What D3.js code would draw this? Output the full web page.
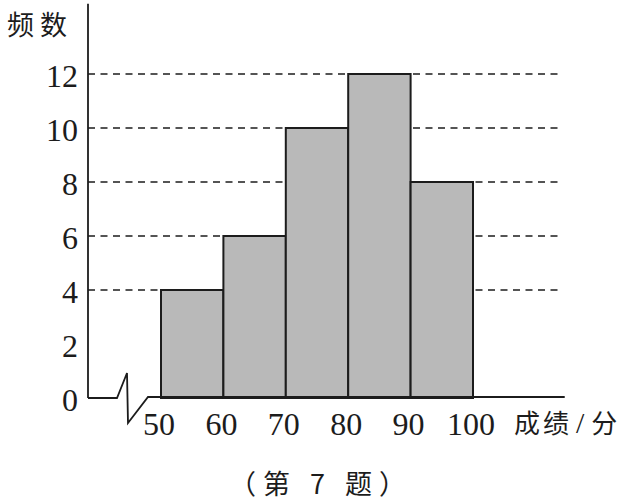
<!DOCTYPE html>
<html>
<head>
	<meta charset="utf-8">
	<title>频数分布直方图</title>
	<script src="https://d3js.org/d3.v7.min.js"></script>
	<style>
		body { margin: 0; background: #fff; }
		.num { font-family: 'Liberation Serif', 'Times New Roman', serif; }
		.cjk { font-family: 'Noto Sans CJK SC', sans-serif; }
	</style>
</head>
<body>
	<div class="chart"></div>

	<script type="text/javascript">
		// 分组边界与频数
		const binEdges = [50, 60, 70, 80, 90, 100]
		const counts = [4, 6, 10, 12, 8]
		const yTicks = [0, 2, 4, 6, 8, 10, 12]
		const gridValues = [4, 6, 8, 10, 12]
		const yTitle = '频数'
		const xTitle = ['成绩', '/', '分']
		const caption = '（第 7 题）'

		const width = 632
		const height = 504
		const ink = '#1c1c1c'

		const svg = d3.select('.chart').append('svg')
			.attr('width', width)
			.attr('height', height)

		const xScale = d3.scaleLinear()
			.domain([50, 100])
			.range([161, 473])

		const yScale = d3.scaleLinear()
			.domain([0, 12])
			.range([398, 74])

		const originX = 88
		const axisEndX = xScale(114.7)
		const axisTopY = yScale(14.6)

		// 虚线
		svg.append('g')
			.selectAll('line')
			.data(gridValues)
			.join('line')
			.attr('x1', originX)
			.attr('x2', xScale(113.8))
			.attr('y1', d => yScale(d))
			.attr('y2', d => yScale(d))
			.attr('stroke', ink)
			.attr('stroke-width', 1.6)
			.attr('stroke-dasharray', '7,5.5')

		// 直方图
		const bins = counts.map((c, i) => ({ x0: binEdges[i], x1: binEdges[i + 1], n: c }))
		svg.append('g')
			.selectAll('rect')
			.data(bins)
			.join('rect')
			.attr('x', d => xScale(d.x0))
			.attr('y', d => yScale(d.n))
			.attr('width', d => xScale(d.x1) - xScale(d.x0))
			.attr('height', d => yScale(0) - yScale(d.n))
			.attr('fill', '#b9b9b9')
			.attr('stroke', ink)
			.attr('stroke-width', 2)

		// 纵轴
		svg.append('line')
			.attr('x1', originX).attr('x2', originX)
			.attr('y1', axisTopY).attr('y2', yScale(0))
			.attr('stroke', ink)
			.attr('stroke-width', 1.8)

		// 横轴（含折断号）
		const y0 = yScale(0)
		const bx = xScale(50)
		const axisPath = d3.path()
		axisPath.moveTo(originX, y0)
		axisPath.lineTo(bx - 44, y0)
		axisPath.lineTo(bx - 34, y0 - 25)
		axisPath.lineTo(bx - 33, y0 + 25)
		axisPath.lineTo(bx - 13, y0 - 1)
		axisPath.lineTo(axisEndX, y0 - 1)
		svg.append('path')
			.attr('d', axisPath.toString())
			.attr('fill', 'none')
			.attr('stroke', ink)
			.attr('stroke-width', 1.8)
			.attr('stroke-linejoin', 'miter')

		// 纵轴刻度文字
		svg.append('g')
			.selectAll('text')
			.data(yTicks)
			.join('text')
			.attr('class', 'num')
			.attr('x', 78)
			.attr('y', d => yScale(d) + 13)
			.attr('text-anchor', 'end')
			.attr('font-size', 32)
			.attr('fill', ink)
			.text(d => d)

		// 横轴刻度文字
		svg.append('g')
			.selectAll('text')
			.data(binEdges)
			.join('text')
			.attr('class', 'num')
			.attr('x', d => xScale(d) - 2)
			.attr('y', 435)
			.attr('text-anchor', 'middle')
			.attr('font-size', 32)
			.attr('fill', ink)
			.text(d => d)

		svg.append('text')
			.attr('class', 'cjk')
			.attr('x', 7)
			.attr('y', 35)
			.attr('font-size', 27)
			.attr('letter-spacing', 6)
			.attr('fill', ink)
			.text(yTitle)

		const xt = svg.append('text')
			.attr('class', 'cjk')
			.attr('x', 514)
			.attr('y', 433)
			.attr('font-size', 26)
			.attr('fill', ink)
		xt.append('tspan').attr('letter-spacing', 3).text(xTitle[0])
		xt.append('tspan').attr('class', 'num').attr('dx', 4).attr('font-size', 30).text(xTitle[1])
		xt.append('tspan').attr('dx', 7).text(xTitle[2])

		svg.append('text')
			.attr('class', 'cjk')
			.attr('x', 321)
			.attr('y', 494)
			.attr('text-anchor', 'middle')
			.attr('font-size', 27)
			.attr('letter-spacing', 7)
			.attr('fill', ink)
			.text(caption)
	</script>
</body>
</html>
